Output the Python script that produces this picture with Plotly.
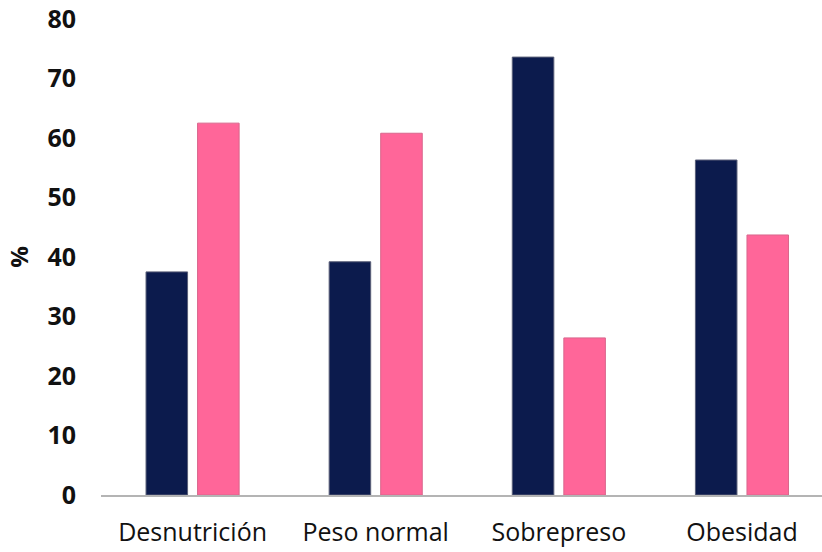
import plotly.graph_objects as go

categories = ["Desnutrición", "Peso normal", "Sobrepreso", "Obesidad"]
serie_a = [37.5, 39.2, 73.6, 56.3]
serie_b = [62.5, 60.8, 26.4, 43.7]
y_ticks = [0, 10, 20, 30, 40, 50, 60, 70, 80]

fig = go.Figure()
fig.add_trace(go.Bar(
    x=categories, y=serie_a, name="A",
    marker=dict(color="#0c1b4d", line=dict(color="#5a5f78", width=1)),
))
fig.add_trace(go.Bar(
    x=categories, y=serie_b, name="B",
    marker=dict(color="#ff6699", line=dict(color="#d9668c", width=1)),
))

fig.update_layout(
    width=822, height=552,
    margin=dict(l=101, r=0, t=19, b=57),
    paper_bgcolor="white", plot_bgcolor="white",
    barmode="group", bargap=0.437, bargroupgap=0.194,
    showlegend=False,
    font=dict(family="Open Sans, sans-serif", color="#111111"),
)
fig.update_xaxes(
    type="category", range=[-0.5, 3.437],
    showline=True, linecolor="#b4b4b4", linewidth=2,
    showgrid=False, ticks="",
    tickfont=dict(size=25, color="#111111"),
    ticklabelstandoff=14,
)
fig.update_yaxes(
    range=[0, 80], tickvals=y_ticks,
    showgrid=False, showline=False, zeroline=False, ticks="",
    tickfont=dict(size=25, color="#111111", weight="bold"),
    ticklabelstandoff=24,
    title=dict(text="%", font=dict(size=24, weight="bold"), standoff=12),
)

fig.write_html("out.html")
